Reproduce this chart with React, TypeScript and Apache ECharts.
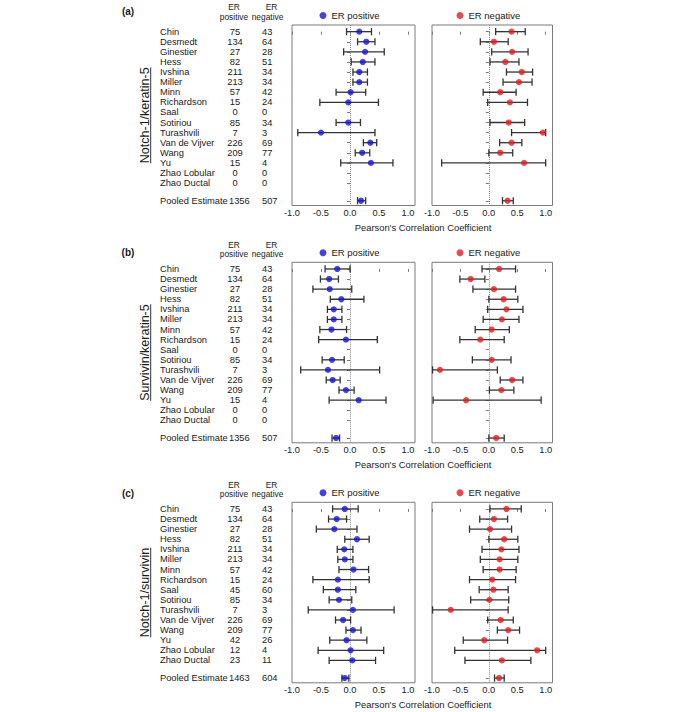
import React, { useEffect, useRef } from 'react';
import * as echarts from 'echarts';

// ---------- data ----------
const studies = ['Chin', 'Desmedt', 'Ginestier', 'Hess', 'Ivshina', 'Miller', 'Minn', 'Richardson', 'Saal', 'Sotiriou', 'Turashvili', 'Van de Vijver', 'Wang', 'Yu', 'Zhao Lobular', 'Zhao Ductal'];
const pooledLabel = 'Pooled Estimate';
const rowPositions = [0, 1, 2, 3, 4, 5, 6, 7, 8, 9, 10, 11, 12, 13, 14, 15];
const pooledPosition = 16.75;
const xTicks = [-1, -0.5, 0, 0.5, 1];

const panelLetters = ['(a)', '(b)', '(c)'];
const panelTitles = ['Notch-1/keratin-5', 'Survivin/keratin-5', 'Notch-1/survivin'];

// (a) Notch-1/keratin-5
const nPosA = [75, 134, 27, 82, 211, 213, 57, 15, 0, 85, 7, 226, 209, 15, 0, 0];
const nNegA = [43, 64, 28, 51, 34, 34, 42, 24, 0, 34, 3, 69, 77, 4, 0, 0];
const pooledNA = [1356, 507];
const posRA = [0.16, 0.28, 0.26, 0.22, 0.16, 0.16, 0.01, -0.03, null, -0.03, -0.5, 0.35, 0.21, 0.36, null, null];
const posLoA = [-0.06, 0.13, -0.11, 0.02, 0.05, 0.05, -0.24, -0.52, null, -0.24, -0.9, 0.23, 0.09, -0.16, null, null];
const posHiA = [0.37, 0.43, 0.59, 0.43, 0.3, 0.3, 0.27, 0.49, null, 0.18, 0.43, 0.46, 0.34, 0.74, null, null];
const posPooledA = [0.19, 0.13, 0.27];
const negRA = [0.4, 0.09, 0.41, 0.29, 0.58, 0.53, 0.2, 0.37, null, 0.35, 0.95, 0.4, 0.2, 0.62, null, null];
const negLoA = [0.12, -0.15, 0.05, 0.02, 0.31, 0.25, -0.1, -0.02, null, 0.02, 0.4, 0.19, 0.0, -0.83, null, null];
const negHiA = [0.64, 0.34, 0.69, 0.53, 0.77, 0.76, 0.48, 0.68, null, 0.63, 1.0, 0.58, 0.42, 1.0, null, null];
const negPooledA = [0.33, 0.24, 0.43];

// (b) Survivin/keratin-5
const nPosB = [75, 134, 27, 82, 211, 213, 57, 15, 0, 85, 7, 226, 209, 15, 0, 0];
const nNegB = [43, 64, 28, 51, 34, 34, 42, 24, 0, 34, 3, 69, 77, 4, 0, 0];
const pooledNB = [1356, 507];
const posRB = [-0.22, -0.36, -0.35, -0.15, -0.28, -0.28, -0.32, -0.07, null, -0.31, -0.38, -0.3, -0.07, 0.15, null, null];
const posLoB = [-0.43, -0.51, -0.64, -0.34, -0.39, -0.39, -0.52, -0.54, null, -0.48, -0.85, -0.41, -0.19, -0.36, null, null];
const posHiB = [0.0, -0.2, 0.03, 0.24, -0.14, -0.14, -0.06, 0.47, null, -0.1, 0.51, -0.17, 0.07, 0.62, null, null];
const posPooledB = [-0.24, -0.31, -0.18];
const negRB = [0.18, -0.32, 0.09, 0.26, 0.31, 0.23, 0.05, -0.15, null, 0.05, -0.86, 0.41, 0.22, -0.4, null, null];
const negLoB = [-0.12, -0.51, -0.28, 0.0, -0.02, -0.1, -0.24, -0.51, null, -0.29, -0.99, 0.2, 0.01, -0.98, null, null];
const negHiB = [0.47, -0.07, 0.47, 0.51, 0.6, 0.53, 0.36, 0.27, null, 0.39, 0.15, 0.6, 0.44, 0.92, null, null];
const negPooledB = [0.13, 0.0, 0.27];

// (c) Notch-1/survivin
const nPosC = [75, 134, 27, 82, 211, 213, 57, 15, 45, 85, 7, 226, 209, 42, 12, 23];
const nNegC = [43, 64, 28, 51, 34, 34, 42, 24, 60, 34, 3, 69, 77, 26, 4, 11];
const pooledNC = [1463, 604];
const posRC = [-0.09, -0.23, -0.27, 0.12, -0.1, -0.09, 0.06, -0.21, -0.21, -0.19, 0.05, -0.12, 0.05, -0.06, 0.01, 0.04];
const posLoC = [-0.3, -0.37, -0.58, -0.09, -0.22, -0.21, -0.19, -0.64, -0.46, -0.36, -0.72, -0.25, -0.07, -0.35, -0.55, -0.36];
const posHiC = [0.14, -0.06, 0.12, 0.33, 0.05, 0.05, 0.32, 0.33, 0.1, 0.03, 0.76, 0.01, 0.19, 0.29, 0.58, 0.44];
const posPooledC = [-0.09, -0.14, -0.02];
const negRC = [0.31, 0.09, 0.02, 0.27, 0.22, 0.19, 0.19, 0.06, 0.08, 0.01, -0.67, 0.21, 0.34, -0.08, 0.85, 0.23];
const negLoC = [0.02, -0.16, -0.34, 0.0, -0.12, -0.15, -0.1, -0.34, -0.17, -0.32, -0.99, -0.02, 0.15, -0.45, -0.6, -0.42];
const negHiC = [0.57, 0.33, 0.4, 0.51, 0.53, 0.51, 0.48, 0.47, 0.34, 0.35, 0.34, 0.43, 0.54, 0.33, 1.0, 0.74];
const negPooledC = [0.18, 0.1, 0.27];

const panels = [
  { nPos: nPosA, nNeg: nNegA, pooledN: pooledNA, pos: [posRA, posLoA, posHiA, posPooledA], neg: [negRA, negLoA, negHiA, negPooledA] },
  { nPos: nPosB, nNeg: nNegB, pooledN: pooledNB, pos: [posRB, posLoB, posHiB, posPooledB], neg: [negRB, negLoB, negHiB, negPooledB] },
  { nPos: nPosC, nNeg: nNegC, pooledN: pooledNC, pos: [posRC, posLoC, posHiC, posPooledC], neg: [negRC, negLoC, negHiC, negPooledC] },
];

// ---------- layout ----------
const FONT = "'Liberation Sans', Arial, Helvetica, sans-serif";
const PANEL_TOP = [25, 262.3, 502.3];
const PANEL_LABEL_Y = [11, 252.3, 493.3];
const BOX_H = 180.5;
const GRIDS = [{ left: 292, width: 123 }, { left: 432, width: 120.5 }];
const BLUE = '#1414d8';
const RED = '#e31b1b';
const BAR = '#333333';
const FRAME = '#7a7a7a';
const TXT = '#1a1a1a';

function buildRows(r: any[], lo: any[], hi: any[], pooled: number[]) {
  const pts: number[][] = [];
  const bars: number[][] = [];
  r.forEach((v, i) => {
    if (v === null) return;
    pts.push([v, rowPositions[i]]);
    bars.push([lo[i], hi[i], rowPositions[i]]);
  });
  pts.push([pooled[0], pooledPosition]);
  bars.push([pooled[1], pooled[2], pooledPosition]);
  return { pts, bars };
}

function errorBarRender(params: any, api: any) {
  const y = api.value(2);
  const a = api.coord([api.value(0), y]);
  const b = api.coord([api.value(1), y]);
  const h = 3.6;
  const style = { stroke: BAR, lineWidth: 1.3 };
  return {
    type: 'group',
    children: [
      { type: 'line', shape: { x1: a[0], y1: a[1], x2: b[0], y2: b[1] }, style },
      { type: 'line', shape: { x1: a[0], y1: a[1] - h, x2: a[0], y2: a[1] + h }, style },
      { type: 'line', shape: { x1: b[0], y1: b[1] - h, x2: b[0], y2: b[1] + h }, style },
    ],
  };
}

function measure(text: string, font: string) {
  const c = document.createElement('canvas').getContext('2d');
  if (!c) return text.length * 7;
  c.font = font;
  return c.measureText(text).width;
}

function buildOption() {
  const grid: any[] = [];
  const xAxis: any[] = [];
  const yAxis: any[] = [];
  const series: any[] = [];
  const legend: any[] = [];
  const graphic: any[] = [];

  panels.forEach((p, pi) => {
    const top = PANEL_TOP[pi];
    [0, 1].forEach((side) => {
      const gi = pi * 2 + side;
      grid.push({
        left: GRIDS[side].left, width: GRIDS[side].width, top, height: BOX_H,
        show: true, borderColor: FRAME, borderWidth: 1, backgroundColor: 'transparent',
      });
      xAxis.push({
        type: 'value', gridIndex: gi, min: -1, max: 1.12, interval: 0.5,
        axisLine: { show: false },
        splitLine: { show: false },
        axisTick: { show: true, length: 3, lineStyle: { color: FRAME }, customValues: xTicks },
        axisLabel: {
          customValues: xTicks, margin: 3, color: TXT, fontSize: 9.3, fontFamily: FONT,
          formatter: (v: number) => v.toFixed(1),
        },
      });
      yAxis.push({
        type: 'value', gridIndex: gi, min: -0.66, max: 17.22, inverse: true,
        axisLine: { show: false },
        splitLine: { show: false },
        axisTick: { show: true, length: 3, lineStyle: { color: FRAME }, customValues: [...rowPositions, pooledPosition] },
        axisLabel: { show: false },
      });
      const d = side === 0 ? p.pos : p.neg;
      const rows = buildRows(d[0], d[1], d[2], d[3]);
      const name = side === 0 ? 'ER positive' : 'ER negative';
      const color = side === 0 ? BLUE : RED;
      series.push({
        type: 'custom', name: 'CI ' + name, xAxisIndex: gi, yAxisIndex: gi,
        renderItem: errorBarRender, data: rows.bars, encode: { x: [0, 1], y: 2 }, clip: false, silent: true, z: 3,
      });
      series.push({
        type: 'scatter', name, xAxisIndex: gi, yAxisIndex: gi, data: rows.pts,
        symbol: 'circle', symbolSize: 6.2, itemStyle: { color }, z: 5, silent: true,
        markLine: {
          silent: true, symbol: 'none', label: { show: false },
          lineStyle: { type: 'dotted', color: '#888', width: 1 },
          data: [{ xAxis: 0 }], z: 1,
        },
      });
      legend.push({
        data: [{ name, icon: 'circle' }],
        left: side === 0 ? 319.5 : 456.5, top: top - 15,
        itemWidth: 7, itemHeight: 7, padding: 0, selectedMode: false,
        textStyle: { fontSize: 9.5, fontFamily: FONT, color: TXT, lineHeight: 11 },
      });
    });

    // row labels: study names and sample counts, placed on the left grid's y scale
    const labelRows = rowPositions.map((y, i) => [0, y, i]).concat([[0, pooledPosition, -1]]);
    series.push({
      type: 'custom', name: 'labels', xAxisIndex: pi * 2, yAxisIndex: pi * 2, clip: false, silent: true,
      data: labelRows, encode: { x: 0, y: 1 },
      renderItem: (params: any, api: any) => {
        const idx = api.value(2);
        const yPix = api.coord([0, api.value(1)])[1];
        const isPooled = idx < 0;
        const nm = isPooled ? pooledLabel : studies[idx];
        const np = isPooled ? p.pooledN[0] : p.nPos[idx];
        const nn = isPooled ? p.pooledN[1] : p.nNeg[idx];
        const st = (text: any, x: number, align: string) => ({
          type: 'text', x, y: yPix,
          style: { text: String(text), fill: TXT, font: `9.3px ${FONT}`, align, verticalAlign: 'middle' },
        });
        return {
          type: 'group',
          children: [
            st(nm, 160, 'left'),
            isPooled ? st(np, 229, 'left') : st(np, 235, 'center'),
            st(nn, 262, 'left'),
          ],
        };
      },
    });

    // column headers
    const hdr = (text: string, x: number, y: number) => ({
      type: 'text', x, y, silent: true,
      style: { text, fill: TXT, font: `8.4px ${FONT}`, align: 'center', verticalAlign: 'middle' },
    });
    graphic.push(hdr('ER', 234, top - 17.6));
    graphic.push(hdr('positive', 234, top - 8.3));
    graphic.push(hdr('ER', 271.5, top - 17.6));
    graphic.push(hdr('negative', 267.5, top - 8.3));

    // panel letter
    graphic.push({
      type: 'text', x: 128, y: PANEL_LABEL_Y[pi], silent: true,
      style: { text: panelLetters[pi], fill: TXT, font: `bold 10px ${FONT}`, align: 'center', verticalAlign: 'middle' },
    });

    // x-axis title
    graphic.push({
      type: 'text', x: 423, y: top + BOX_H + 21.7, silent: true,
      style: { text: "Pearson's Correlation Coefficient", fill: TXT, font: `9.4px ${FONT}`, align: 'center', verticalAlign: 'middle' },
    });

    // y title (rotated, underlined)
    const tFont = `12.5px ${FONT}`;
    const w = measure(panelTitles[pi], tFont);
    graphic.push({
      type: 'group', x: 144.5, y: top + BOX_H / 2, rotation: Math.PI / 2, silent: true,
      children: [
        { type: 'text', x: 0, y: 0, style: { text: panelTitles[pi], fill: TXT, font: tFont, align: 'center', verticalAlign: 'middle' } },
        { type: 'line', shape: { x1: -w / 2, y1: 6.2, x2: w / 2, y2: 6.2 }, style: { stroke: TXT, lineWidth: 0.9 } },
      ],
    });
  });

  return {
    animation: false,
    backgroundColor: '#ffffff',
    textStyle: { fontFamily: FONT },
    grid, xAxis, yAxis, series, legend, graphic,
  };
}

export default function App() {
  const ref = useRef<HTMLDivElement>(null);
  useEffect(() => {
    if (!ref.current) return;
    const chart = echarts.init(ref.current, undefined, { renderer: 'svg' });
    chart.setOption(buildOption() as any);
    return () => chart.dispose();
  }, []);
  return <div ref={ref} style={{ position: 'absolute', left: 0, top: 0, width: 685, height: 712 }} />;
}
